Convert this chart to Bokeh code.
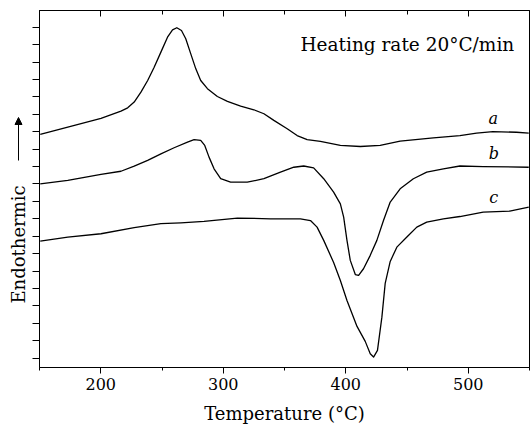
import math
from bokeh.plotting import figure
from bokeh.layouts import row
from bokeh.models import (LinearAxis, FixedTicker, SingleIntervalTicker, Label,
                          Arrow, NormalHead, Range1d, CustomJSTickFormatter)
from bokeh.embed import file_html
from bokeh.resources import INLINE

# Curve a
temp_a = [150.6, 173.1, 200.2, 216.5, 222.0, 227.3, 232.8, 238.3, 243.6, 249.1,
          254.5, 258.6, 262.1, 265.9, 269.4, 273.5, 277.6, 281.6, 287.1, 295.2,
          303.4, 314.2, 325.0, 333.2, 341.3, 352.2, 360.3, 368.5, 379.3, 395.6,
          411.9, 428.1, 444.4, 471.5, 493.2, 506.8, 520.1, 539.4, 549.4]
sig_a = [12.84, 13.26, 13.76, 14.18, 14.37, 14.70, 15.27, 15.94, 16.70, 17.57,
         18.43, 18.85, 18.97, 18.81, 18.34, 17.47, 16.61, 15.94, 15.47, 15.02,
         14.74, 14.47, 14.26, 14.03, 13.65, 13.17, 12.78, 12.55, 12.44, 12.21,
         12.15, 12.21, 12.46, 12.65, 12.78, 12.92, 13.01, 12.97, 12.92]

# Curve b
temp_b = [150.6, 173.1, 200.2, 216.5, 227.3, 238.3, 249.1, 259.9, 270.8, 276.2,
          281.6, 284.9, 288.4, 292.5, 297.9, 306.0, 319.6, 333.2, 346.7, 357.6,
          365.7, 373.8, 382.0, 390.1, 395.6, 398.3, 401.0, 403.7, 407.8, 410.5,
          414.5, 420.0, 425.4, 430.8, 436.3, 444.4, 455.2, 466.1, 479.7, 493.2,
          512.2, 549.4]
sig_b = [10.01, 10.20, 10.55, 10.73, 11.02, 11.35, 11.73, 12.08, 12.40, 12.54,
         12.50, 12.21, 11.54, 10.87, 10.30, 10.10, 10.10, 10.30, 10.68, 10.96,
         11.03, 10.92, 10.30, 9.53, 8.86, 8.09, 6.76, 5.61, 4.80, 4.75,
         5.13, 5.90, 6.76, 7.90, 8.96, 9.72, 10.30, 10.68, 10.87, 11.03,
         11.00, 10.96]

# Curve c
temp_c = [150.6, 173.1, 200.2, 227.3, 249.1, 265.4, 284.3, 311.5, 338.6, 363.0,
          371.2, 376.6, 382.0, 390.1, 395.6, 401.0, 409.2, 415.9, 420.0, 422.7,
          425.9, 429.5, 432.2, 436.3, 441.7, 449.9, 458.0, 466.1, 479.7, 493.2,
          512.2, 533.9, 549.4]
sig_c = [6.72, 6.95, 7.14, 7.49, 7.72, 7.77, 7.85, 8.04, 8.00, 8.00,
         7.90, 7.52, 6.76, 5.49, 4.46, 3.31, 1.82, 0.96, 0.25, 0.06,
         0.44, 2.35, 4.29, 5.55, 6.37, 6.95, 7.52, 7.81, 8.00, 8.13,
         8.38, 8.44, 8.67]

curve_names = ["a", "b", "c"]
name_x = [520.5, 520.9, 520.9]
name_y = [13.74, 11.77, 9.21]

y_ticks = list(range(20))

FONT = "DejaVu Serif"

p = figure(width=498, height=426, x_range=Range1d(150, 550),
           y_range=Range1d(-0.54, 19.96), output_backend="svg",
           toolbar_location=None, min_border_left=7, min_border_right=1,
           min_border_top=10, min_border_bottom=59)

p.grid.visible = False
p.outline_line_color = "black"
p.outline_line_width = 1
p.background_fill_color = "white"
p.border_fill_color = "white"

for xs, ys in [(temp_a, sig_a), (temp_b, sig_b), (temp_c, sig_c)]:
    p.line(xs, ys, line_color="black", line_width=1.3, line_join="round")

# bottom axis
xa = p.xaxis[0]
xa.ticker = SingleIntervalTicker(interval=100, num_minor_ticks=2)
xa.major_tick_out = 6
xa.major_tick_in = 0
xa.minor_tick_out = 3
xa.minor_tick_in = 0
xa.axis_line_color = "black"
xa.major_tick_line_color = "black"
xa.minor_tick_line_color = "black"
xa.major_label_text_font = FONT
xa.major_label_text_font_size = "16px"
xa.major_label_text_color = "black"
xa.major_label_standoff = 4
xa.axis_label = "Temperature (°C)"
xa.axis_label_text_font = FONT
xa.axis_label_text_font_size = "18px"
xa.axis_label_text_font_style = "normal"
xa.axis_label_text_color = "black"
xa.axis_label_standoff = 10

blank = CustomJSTickFormatter(code="return ''")

# top axis (ticks only)
top = LinearAxis(ticker=SingleIntervalTicker(interval=100, num_minor_ticks=2),
                 major_tick_in=6, major_tick_out=0, minor_tick_in=4, minor_tick_out=0,
                 formatter=blank, major_label_standoff=0,
                 axis_line_color="black")
p.add_layout(top, "above")

# left axis
ya = p.yaxis[0]
ya.ticker = FixedTicker(ticks=y_ticks, minor_ticks=[])
ya.major_tick_out = 7
ya.major_tick_in = 0
ya.formatter = blank
ya.major_label_standoff = 0
ya.axis_line_color = "black"
ya.major_tick_line_color = "black"

# texts inside the plot
p.add_layout(Label(x=363.0, y=18.0, text="Heating rate 20°C/min",
                   text_font=FONT, text_font_size="18.5px", text_color="black",
                   text_baseline="alphabetic", text_align="left"))
for n, x, y in zip(curve_names, name_x, name_y):
    p.add_layout(Label(x=x, y=y, text=n, text_font=FONT, text_font_size="16px",
                       text_font_style="italic", text_color="black",
                       text_align="center", text_baseline="middle"))

# left strip holding the y-axis title and its arrow
left = figure(frame_width=32, frame_height=426, x_range=Range1d(0, 32),
              y_range=Range1d(426, 0),
              output_backend="svg", toolbar_location=None, min_border=0,
              min_border_left=0, min_border_right=0, min_border_top=0,
              min_border_bottom=0,
              x_axis_location=None, y_axis_location=None)
left.grid.visible = False
left.outline_line_color = None
left.background_fill_color = "white"
left.border_fill_color = "white"
left.add_layout(Label(x=18, y=234, text="Endothermic", angle=math.pi / 2,
                      text_font=FONT, text_font_size="18px", text_color="black",
                      text_align="center", text_baseline="middle"))
left.add_layout(Arrow(end=NormalHead(size=7, line_color="black", fill_color="black"),
                      x_start=18, y_start=150, x_end=18, y_end=107,
                      line_color="black", line_width=1))

layout = row(left, p, spacing=0)
open("out.html", "w").write(file_html(layout, INLINE))
